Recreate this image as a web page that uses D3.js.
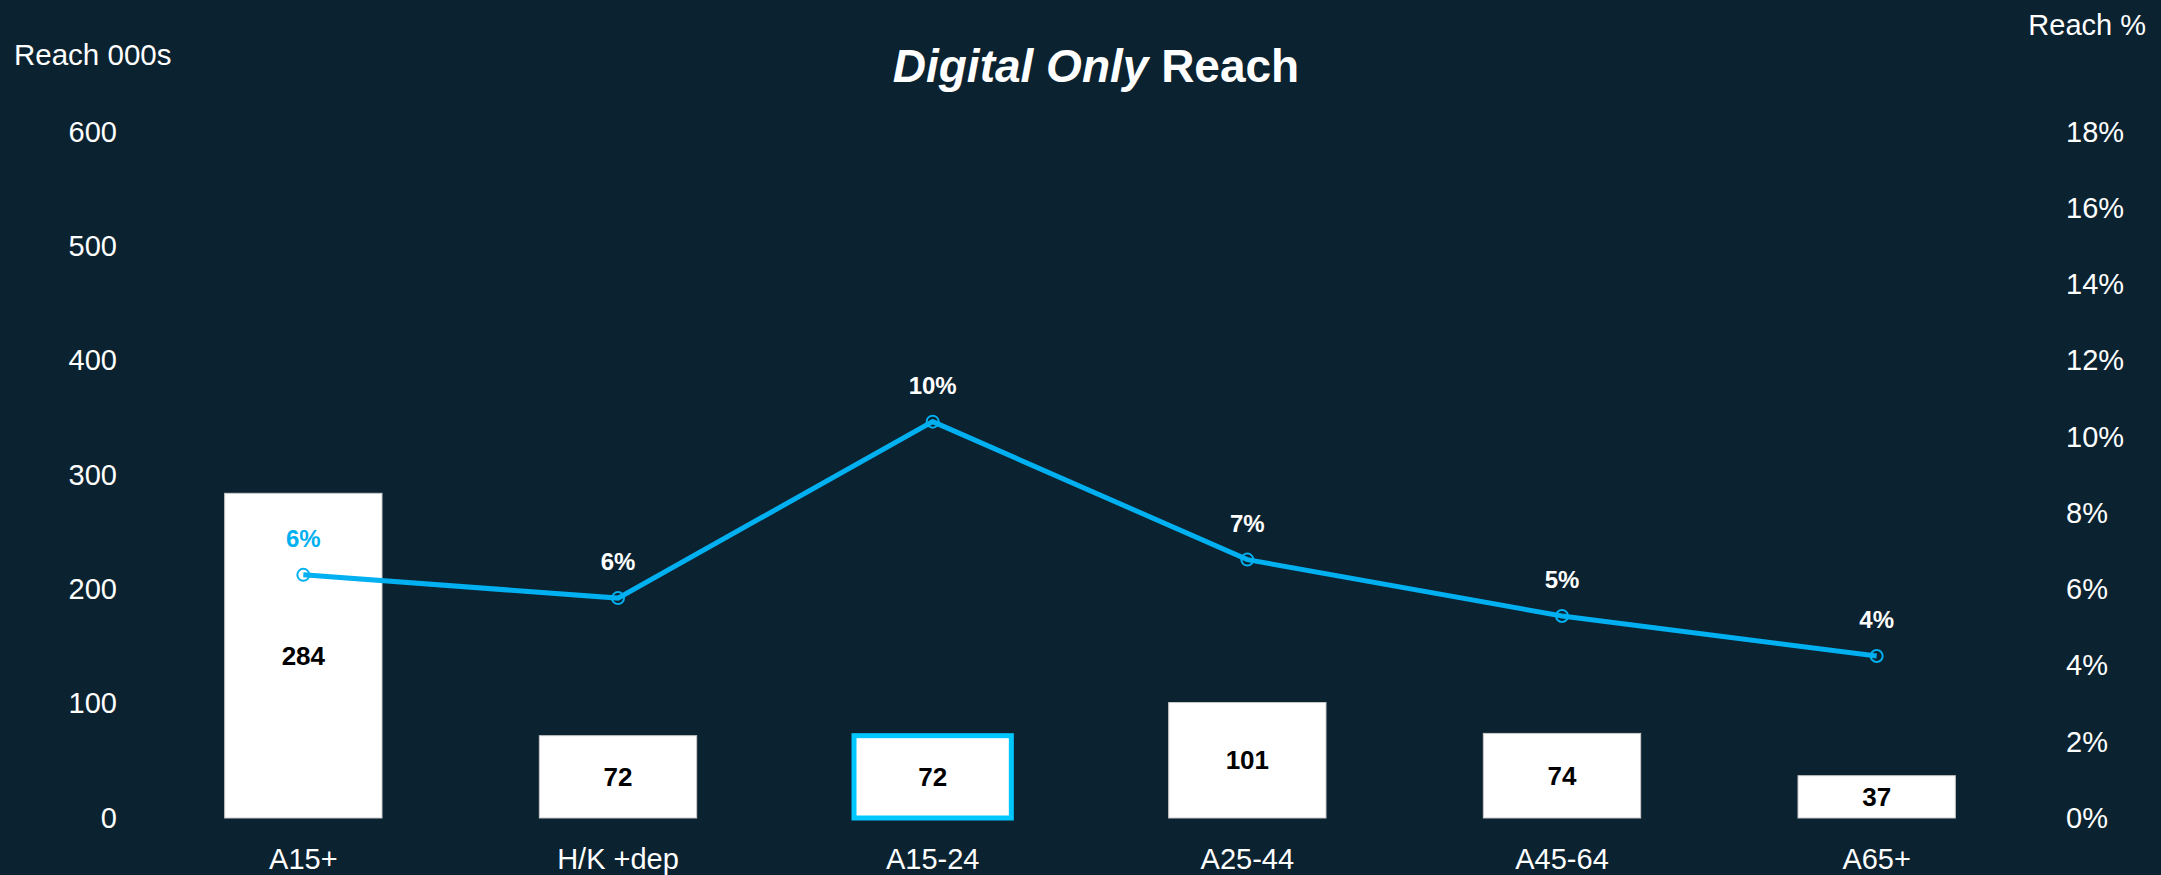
<!DOCTYPE html>
<html>
<head>
<meta charset="utf-8">
<script src="https://cdn.jsdelivr.net/npm/d3@7"></script>
<style>
  body { margin: 0; background: #0b2230; }
  svg text { font-family: "Liberation Sans", Arial, sans-serif; }
</style>
</head>
<body>
<script>
let categories = ["A15+", "H/K +dep", "A15-24", "A25-44", "A45-64", "A65+"];
let reach000s = [284, 72, 72, 101, 74, 37];
let reachPct = [0.0638, 0.0577, 0.1040, 0.0678, 0.0530, 0.0425];
let leftTicks = [0, 100, 200, 300, 400, 500, 600];
let rightTicks = [0, 0.02, 0.04, 0.06, 0.08, 0.10, 0.12, 0.14, 0.16, 0.18];
let highlighted = "A15-24";

let W = 2161, H = 875;
let lineColor = "#00b0f0";

let svg = d3.select("body").append("svg").attr("width", W).attr("height", H);
svg.append("rect").attr("width", W).attr("height", H).attr("fill", "#0b2230");

let x = d3.scaleBand().domain(categories).range([146, 2034]).paddingInner(0.5).paddingOuter(0.25);
let y = d3.scaleLinear().domain([0, 600]).range([818, 132]);
let y2 = d3.scaleLinear().domain([0, 0.18]).range([818, 132]);

// title
let title = svg.append("text")
    .attr("x", 1096).attr("y", 82)
    .attr("text-anchor", "middle")
    .attr("fill", "#fff").attr("font-size", 46).attr("font-weight", "bold");
title.append("tspan").attr("font-style", "italic").text("Digital Only");
title.append("tspan").text(" Reach");

// axis titles
svg.append("text").attr("x", 14).attr("y", 55).attr("dy", "0.35em")
    .attr("fill", "#fff").attr("font-size", 29.5).text("Reach 000s");
svg.append("text").attr("x", 2146).attr("y", 25).attr("dy", "0.35em")
    .attr("text-anchor", "end").attr("fill", "#fff").attr("font-size", 29).text("Reach %");

// axes
let left = svg.append("g").attr("transform", "translate(127,0)")
    .call(d3.axisLeft(y).tickValues(leftTicks).tickSize(0).tickPadding(10));
let right = svg.append("g").attr("transform", "translate(2056,0)")
    .call(d3.axisRight(y2).tickValues(rightTicks).tickSize(0).tickPadding(10).tickFormat(d3.format(".0%")));
let bottom = svg.append("g").attr("transform", "translate(0,818)")
    .call(d3.axisBottom(x).tickSize(0).tickPadding(30));

[left, right, bottom].forEach(function(g) {
  g.select(".domain").remove();
  g.selectAll("text").attr("fill", "#fff").attr("font-size", 29)
    .attr("font-family", "'Liberation Sans', Arial, sans-serif");
});

// bars
svg.selectAll("rect.bar")
  .data(reach000s)
  .enter().append("rect")
    .attr("class", "bar")
    .attr("x", function(d, i) { return x(categories[i]); })
    .attr("y", function(d) { return y(d); })
    .attr("width", x.bandwidth())
    .attr("height", function(d) { return y(0) - y(d); })
    .attr("fill", "#fff")
    .attr("stroke", function(d, i) { return categories[i] === highlighted ? "#00c8ff" : "#c8c8c8"; })
    .attr("stroke-width", function(d, i) { return categories[i] === highlighted ? 5 : 1; });

svg.selectAll("text.barlabel")
  .data(reach000s)
  .enter().append("text")
    .attr("class", "barlabel")
    .attr("x", function(d, i) { return x(categories[i]) + x.bandwidth() / 2; })
    .attr("y", function(d) { return (y(d) + y(0)) / 2; })
    .attr("dy", "0.35em")
    .attr("text-anchor", "middle")
    .attr("font-size", 26).attr("font-weight", "bold").attr("fill", "#000")
    .text(function(d) { return d; });

// reach % line
let line = d3.line()
  .x(function(d, i) { return x(categories[i]) + x.bandwidth() / 2; })
  .y(function(d) { return y2(d); });

svg.append("path")
  .datum(reachPct)
  .attr("d", line)
  .attr("fill", "none")
  .attr("stroke", lineColor)
  .attr("stroke-width", 5);

svg.selectAll("circle.marker")
  .data(reachPct)
  .enter().append("circle")
    .attr("class", "marker")
    .attr("cx", function(d, i) { return x(categories[i]) + x.bandwidth() / 2; })
    .attr("cy", function(d) { return y2(d); })
    .attr("r", 6)
    .attr("fill", "none")
    .attr("stroke", lineColor)
    .attr("stroke-width", 2);

svg.selectAll("text.pctlabel")
  .data(reachPct)
  .enter().append("text")
    .attr("class", "pctlabel")
    .attr("x", function(d, i) { return x(categories[i]) + x.bandwidth() / 2; })
    .attr("y", function(d) { return y2(d) - 36; })
    .attr("dy", "0.35em")
    .attr("text-anchor", "middle")
    .attr("font-size", 24).attr("font-weight", "bold")
    .attr("fill", function(d, i) { return i === 0 ? lineColor : "#fff"; })
    .text(function(d) { return d3.format(".0%")(d); });
</script>
</body>
</html>
